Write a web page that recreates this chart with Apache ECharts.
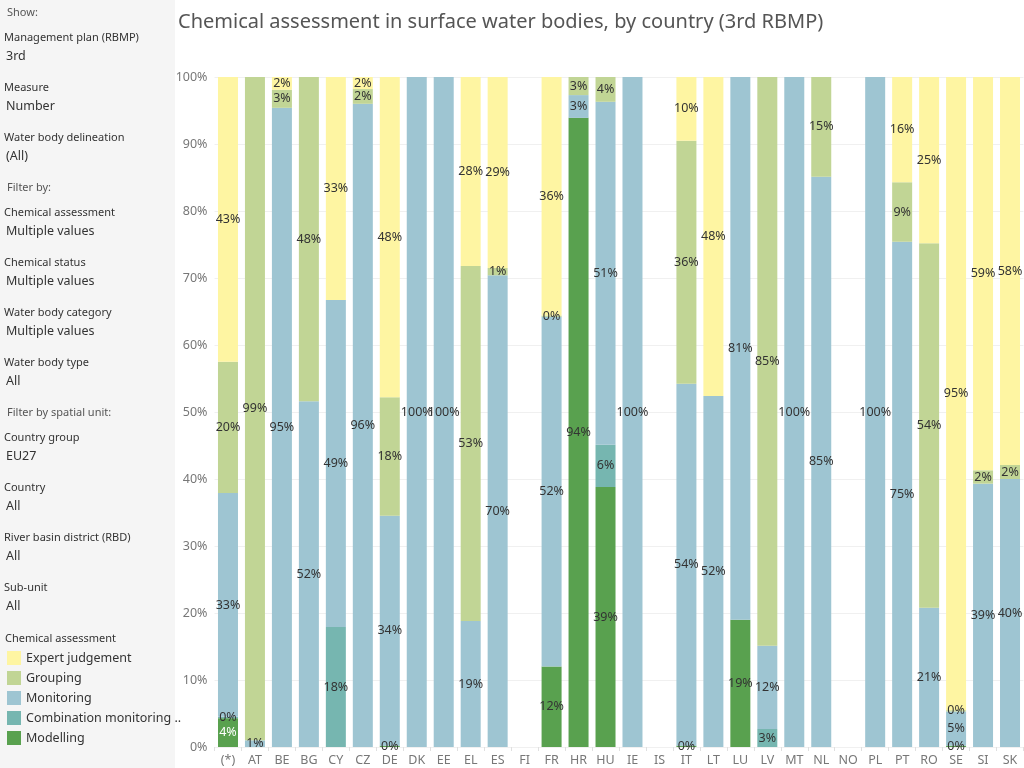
<!DOCTYPE html>
<html>
<head>
<meta charset="utf-8">
<title>Chemical assessment in surface water bodies</title>
<script src="https://cdn.jsdelivr.net/npm/echarts@6/dist/echarts.min.js"></script>
<style>
  html, body { margin: 0; padding: 0; background: #fff; }
  #main { width: 1024px; height: 768px; }
</style>
</head>
<body>
<div id="main"></div>
<script>
// countries on the x axis
var countries = ['(*)','AT','BE','BG','CY','CZ','DE','DK','EE','EL','ES','FI','FR','HR','HU','IE','IS','IT','LT','LU','LV','MT','NL','NO','PL','PT','RO','SE','SI','SK'];

// share of water bodies (%) per assessment method, null = not present
var modelling   = [4.3, null, null, null, null, null, 0.2, null, null, null, null, null, 12, 93.9, 38.8, null, null, 0.2, null, 19, null, null, null, null, null, null, null, 0.2, null, null];
var combination = [0.2, null, null, null, 17.9, null, null, null, null, null, null, null, null, null, 6.3, null, null, null, null, null, 2.7, null, null, null, null, null, null, null, null, null];
var monitoring  = [33.4, 1, 95.4, 51.6, 48.8, 96, 34.3, 100, 100, 18.8, 70.4, null, 52.2, 3.4, 51.2, 100, null, 54, 52.4, 81, 12.4, 100, 85.1, null, 100, 75.4, 20.8, 5.1, 39.3, 40];
var grouping    = [19.6, 99, 2.7, 48.4, null, 2.2, 17.7, null, null, 53, 1.1, null, 0.2, 2.7, 3.7, null, null, 36.3, null, null, 84.9, null, 14.9, null, null, 8.9, 54.4, 0.2, 2, 2.1];
var expert      = [42.5, null, 1.9, null, 33.3, 1.8, 47.8, null, null, 28.2, 28.5, null, 35.6, null, null, null, null, 9.7, 47.6, null, null, null, null, null, null, 15.7, 24.8, 94.5, 58.7, 57.9];

var yTicks = [0, 10, 20, 30, 40, 50, 60, 70, 80, 90, 100];

// filter panel on the left
var panel = [
  ['head', 'Show:'],
  ['Management plan (RBMP)', '3rd'],
  ['Measure', 'Number'],
  ['Water body delineation', '(All)'],
  ['head', 'Filter by:'],
  ['Chemical assessment', 'Multiple values'],
  ['Chemical status', 'Multiple values'],
  ['Water body category', 'Multiple values'],
  ['Water body type', 'All'],
  ['head', 'Filter by spatial unit:'],
  ['Country group', 'EU27'],
  ['Country', 'All'],
  ['River basin district (RBD)', 'All'],
  ['Sub-unit', 'All']
];

var FONT = '"Noto Sans", sans-serif';
var chart = echarts.init(document.getElementById('main'));

var graphics = [{
  type: 'rect', left: 0, top: 0, z: -10,
  shape: { width: 175, height: 768 },
  style: { fill: '#f5f5f5' }
}];
var y = 13;
panel.forEach(function (p) {
  if (p[0] === 'head') {
    graphics.push({ type: 'text', x: 7, y: y, style: { text: p[1], font: '11px ' + FONT, fill: '#555', verticalAlign: 'middle' } });
    y += 25;
  } else {
    graphics.push({ type: 'text', x: 4, y: y, style: { text: p[0], font: '11px ' + FONT, fill: '#333', verticalAlign: 'middle' } });
    graphics.push({ type: 'text', x: 6, y: y + 18, style: { text: p[1], font: '12.5px ' + FONT, fill: '#333', verticalAlign: 'middle' } });
    y += 50;
  }
});
graphics.push({ type: 'text', x: 5, y: 639, style: { text: 'Chemical assessment', font: '11px ' + FONT, fill: '#333', verticalAlign: 'middle' } });
graphics.push({ type: 'text', x: 178, y: 22, style: { text: 'Chemical assessment in surface water bodies, by country (3rd RBMP)', font: '20px ' + FONT, fill: '#555', verticalAlign: 'middle' } });

function pct(v) { return Math.round(v) + '%'; }

function makeSeries(name, arr, color) {
  return {
    name: name,
    type: 'bar',
    stack: 'all',
    barWidth: 20,
    itemStyle: { color: color },
    label: {
      show: true,
      position: 'inside',
      fontFamily: FONT,
      fontSize: 12.5,
      color: '#333',
      formatter: function (p) { return pct(p.value); }
    },
    data: arr.map(function (v, i) {
      if (v === null) return '-';
      if (name === 'Modelling' && i === 0) return { value: v, label: { color: '#fff' } };
      return v;
    })
  };
}

chart.setOption({
  animation: false,
  textStyle: { fontFamily: FONT },
  graphic: graphics,
  legend: {
    orient: 'vertical',
    left: 7, top: 651,
    padding: 0,
    icon: 'rect',
    itemWidth: 14, itemHeight: 14, itemGap: 6,
    selectedMode: false,
    data: ['Expert judgement', 'Grouping', 'Monitoring', 'Combination monitoring and grouping', 'Modelling'],
    textStyle: { fontSize: 12.5, color: '#333', width: 160, overflow: 'truncate', ellipsis: '..' }
  },
  grid: { left: 214.5, right: 0.5, top: 77, bottom: 21 },
  xAxis: {
    type: 'category',
    data: countries,
    axisLine: { show: false },
    axisTick: { show: true, length: 4, lineStyle: { color: '#e0e0e0' } },
    axisLabel: { color: '#777', fontSize: 12.5, margin: 7 }
  },
  yAxis: {
    type: 'value',
    min: yTicks[0], max: yTicks[yTicks.length - 1], interval: 10,
    axisLabel: { color: '#777', fontSize: 12.5, margin: 7, formatter: '{value}%' },
    splitLine: { lineStyle: { color: '#f0f0f0' } },
    axisLine: { show: false }, axisTick: { show: false }
  },
  series: [
    makeSeries('Modelling', modelling, '#59a14f'),
    makeSeries('Combination monitoring and grouping', combination, '#76b6b0'),
    makeSeries('Monitoring', monitoring, '#9ec5d2'),
    makeSeries('Grouping', grouping, '#c1d595'),
    makeSeries('Expert judgement', expert, '#fef5a2')
  ]
});
</script>
</body>
</html>
